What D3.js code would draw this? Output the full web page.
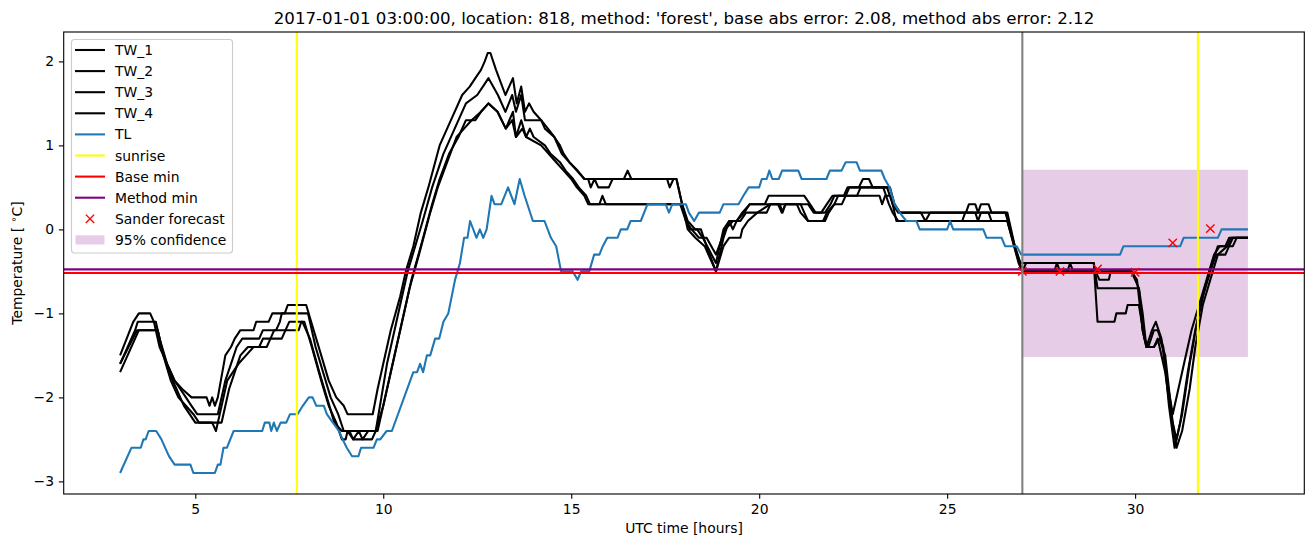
<!DOCTYPE html>
<html><head><meta charset="utf-8">
<script src="https://cdn.jsdelivr.net/npm/d3@7"></script>
<style>body{margin:0;background:#fff} text{font-family:"DejaVu Sans",sans-serif;fill:#000}</style>
</head><body><svg id="c" width="1313" height="547"></svg>
<script>
// ---------- data (hour, temperature) ----------
const TW_1 = [[3.0,-1.5],[3.35,-1.1],[3.5,-1.0],[3.8,-1.0],[3.9,-1.1],[4.05,-1.4],[4.25,-1.6],[4.45,-1.8],[4.65,-1.9],[4.9,-2.0],[5.3,-2.0],[5.38,-2.1],[5.45,-2.0],[5.52,-2.1],[5.6,-2.0],[5.8,-1.5],[5.95,-1.4],[6.05,-1.3],[6.2,-1.2],[6.55,-1.2],[6.62,-1.1],[6.95,-1.1],[7.05,-1.0],[7.38,-1.0],[7.46,-0.9],[7.95,-0.9],[8.15,-1.2],[8.35,-1.5],[8.55,-1.8],[8.75,-2.0],[8.95,-2.1],[9.05,-2.2],[9.72,-2.2],[9.85,-1.9],[10.0,-1.6],[10.2,-1.2],[10.45,-0.8],[10.6,-0.5],[10.8,-0.2],[11.0,0.2],[11.2,0.5],[11.35,0.75],[11.5,1.0],[11.8,1.3],[12.1,1.6],[12.3,1.7],[12.45,1.8],[12.6,1.9],[12.7,2.0],[12.78,2.1],[12.85,2.1],[13.0,1.9],[13.25,1.6],[13.45,1.8],[13.55,1.5],[13.67,1.7],[13.77,1.4],[13.88,1.5],[14.0,1.4],[14.2,1.3],[14.38,1.2],[14.55,1.1],[14.7,1.0],[14.8,0.9],[14.95,0.8],[15.17,0.7],[15.35,0.6],[16.4,0.6],[16.5,0.7],[16.6,0.6],[17.55,0.6],[17.62,0.5],[17.72,0.6],[17.8,0.6],[17.95,0.3],[18.1,0.1],[18.3,0.0],[18.45,0.0],[18.6,-0.2],[18.85,-0.5],[19.05,-0.1],[19.2,0.1],[19.3,0.0],[19.4,0.1],[19.55,0.2],[19.75,0.3],[20.15,0.3],[20.25,0.4],[21.2,0.4],[21.35,0.3],[21.5,0.2],[21.75,0.2],[21.9,0.3],[22.0,0.4],[22.25,0.4],[22.35,0.5],[22.65,0.5],[22.76,0.6],[22.92,0.6],[23.02,0.5],[23.48,0.5],[23.6,0.3],[23.75,0.2],[24.3,0.2],[24.42,0.1],[24.55,0.2],[25.5,0.2],[25.58,0.3],[25.75,0.3],[25.82,0.2],[25.9,0.3],[26.1,0.3],[26.18,0.2],[26.6,0.2],[26.8,-0.2],[26.95,-0.4],[28.9,-0.4],[29.0,-0.7],[30.1,-0.7],[30.2,-1.2],[30.3,-1.4],[30.45,-1.2],[30.55,-1.1],[30.7,-1.3],[30.85,-1.8],[31.0,-2.2],[31.1,-2.0],[31.3,-1.6],[31.5,-1.2],[31.7,-0.9],[31.9,-0.6],[32.1,-0.3],[32.25,-0.2],[32.4,-0.2],[32.5,-0.1],[33.0,-0.1]];
const TW_2 = [[3.0,-1.6],[3.4,-1.2],[3.47,-1.1],[3.95,-1.1],[4.05,-1.3],[4.25,-1.6],[4.45,-1.8],[4.6,-1.9],[4.75,-2.0],[4.9,-2.1],[5.05,-2.2],[5.6,-2.2],[5.8,-1.8],[5.95,-1.6],[6.1,-1.4],[6.25,-1.3],[6.7,-1.3],[6.8,-1.2],[7.15,-1.2],[7.25,-1.1],[7.3,-1.0],[8.0,-1.0],[8.2,-1.4],[8.4,-1.7],[8.6,-2.0],[8.8,-2.2],[8.95,-2.4],[9.8,-2.4],[9.95,-2.0],[10.1,-1.6],[10.3,-1.2],[10.5,-0.8],[10.65,-0.5],[10.85,-0.2],[11.05,0.1],[11.3,0.5],[11.6,0.9],[11.9,1.2],[12.2,1.5],[12.5,1.6],[12.65,1.7],[12.8,1.8],[13.05,1.6],[13.25,1.4],[13.43,1.6],[13.53,1.4],[13.67,1.6],[13.77,1.3],[14.2,1.3],[14.3,1.2],[14.55,1.1],[14.75,0.9],[14.95,0.8],[15.15,0.7],[15.35,0.6],[15.45,0.6],[15.52,0.5],[15.62,0.6],[15.72,0.5],[16.0,0.5],[16.1,0.6],[17.8,0.6],[18.0,0.2],[18.15,0.0],[18.35,0.0],[18.5,-0.1],[18.85,-0.4],[19.05,0.0],[19.2,0.1],[19.4,0.1],[19.6,0.2],[19.75,0.3],[20.5,0.3],[20.6,0.2],[20.7,0.3],[21.3,0.3],[21.45,0.2],[21.65,0.2],[21.8,0.3],[21.95,0.4],[22.3,0.4],[22.4,0.5],[23.4,0.5],[23.55,0.3],[23.7,0.2],[26.55,0.2],[26.8,-0.2],[27.0,-0.5],[27.1,-0.4],[28.9,-0.4],[29.0,-1.1],[29.45,-1.1],[29.5,-1.0],[29.75,-1.0],[29.8,-0.9],[30.1,-0.9],[30.25,-1.3],[30.35,-1.4],[30.5,-1.2],[30.6,-1.2],[30.75,-1.4],[30.9,-2.1],[31.05,-2.6],[31.2,-2.3],[31.4,-1.7],[31.6,-1.2],[31.8,-0.8],[32.0,-0.5],[32.15,-0.3],[32.4,-0.3],[32.5,-0.2],[32.6,-0.1],[33.0,-0.1]];
const TW_3 = [[3.0,-1.6],[3.45,-1.2],[4.0,-1.2],[4.15,-1.5],[4.35,-1.8],[4.55,-2.0],[4.75,-2.1],[4.95,-2.2],[5.1,-2.3],[5.7,-2.3],[5.9,-1.9],[6.05,-1.7],[6.2,-1.5],[6.4,-1.4],[6.7,-1.4],[6.8,-1.3],[7.0,-1.3],[7.1,-1.2],[7.4,-1.2],[7.5,-1.1],[7.85,-1.1],[8.05,-1.3],[8.3,-1.7],[8.5,-2.0],[8.7,-2.3],[8.9,-2.4],[9.1,-2.4],[9.2,-2.5],[9.35,-2.4],[9.45,-2.5],[9.6,-2.4],[9.85,-2.4],[10.05,-2.0],[10.3,-1.5],[10.55,-1.0],[10.75,-0.6],[11.0,-0.2],[11.3,0.3],[11.5,0.6],[11.75,0.9],[12.0,1.1],[12.2,1.3],[12.45,1.3],[12.6,1.4],[12.8,1.5],[13.04,1.4],[13.26,1.2],[13.45,1.4],[13.53,1.1],[13.67,1.3],[13.8,1.1],[13.9,1.2],[14.0,1.1],[14.3,1.0],[14.45,0.9],[14.7,0.8],[14.85,0.7],[15.05,0.6],[15.2,0.5],[15.4,0.4],[15.5,0.3],[15.75,0.3],[15.83,0.4],[15.92,0.3],[17.9,0.3],[18.05,0.1],[18.2,0.0],[18.4,-0.1],[18.6,-0.1],[18.85,-0.3],[19.1,0.0],[19.3,0.1],[19.5,0.1],[19.65,0.2],[20.2,0.2],[20.3,0.3],[20.55,0.3],[20.62,0.2],[20.7,0.3],[21.0,0.3],[21.1,0.2],[21.3,0.1],[21.7,0.1],[21.8,0.2],[22.0,0.3],[22.1,0.4],[22.6,0.4],[22.7,0.5],[23.3,0.5],[23.45,0.3],[23.55,0.2],[23.7,0.1],[25.4,0.1],[25.48,0.2],[25.75,0.2],[25.82,0.1],[25.9,0.2],[26.1,0.2],[26.18,0.1],[26.6,0.1],[26.85,-0.3],[27.0,-0.5],[27.85,-0.5],[27.92,-0.4],[28.0,-0.5],[28.2,-0.5],[28.27,-0.4],[28.35,-0.5],[28.95,-0.5],[29.05,-0.6],[29.3,-0.6],[29.35,-0.5],[29.9,-0.5],[30.0,-0.6],[30.1,-0.7],[30.2,-1.0],[30.3,-1.4],[30.5,-1.4],[30.6,-1.3],[30.8,-1.7],[30.95,-2.2],[31.1,-2.5],[31.25,-2.2],[31.45,-1.6],[31.65,-1.1],[31.85,-0.7],[32.05,-0.4],[32.2,-0.2],[32.6,-0.2],[32.7,-0.1],[33.0,-0.1]];
const TW_4 = [[3.0,-1.7],[3.5,-1.2],[4.0,-1.2],[4.1,-1.4],[4.3,-1.7],[4.5,-1.9],[4.7,-2.1],[4.85,-2.2],[5.0,-2.3],[5.45,-2.3],[5.55,-2.4],[5.65,-2.2],[5.85,-1.8],[6.0,-1.7],[6.15,-1.6],[6.35,-1.5],[6.55,-1.4],[6.9,-1.4],[7.0,-1.3],[7.3,-1.3],[7.4,-1.2],[7.75,-1.2],[7.82,-1.1],[7.9,-1.1],[8.1,-1.4],[8.35,-1.8],[8.55,-2.1],[8.75,-2.3],[8.9,-2.5],[9.0,-2.5],[9.05,-2.4],[9.2,-2.5],[9.7,-2.5],[9.8,-2.4],[10.0,-2.1],[10.25,-1.6],[10.5,-1.1],[10.7,-0.7],[10.95,-0.3],[11.25,0.2],[11.45,0.5],[11.7,0.8],[11.95,1.1],[12.15,1.2],[12.35,1.3],[12.6,1.4],[12.8,1.5],[13.04,1.4],[13.26,1.2],[13.43,1.3],[13.53,1.1],[13.7,1.2],[13.8,1.1],[14.2,1.0],[14.4,0.9],[14.6,0.8],[14.8,0.7],[15.0,0.6],[15.15,0.5],[15.35,0.4],[15.45,0.3],[17.95,0.3],[18.1,0.0],[18.3,-0.1],[18.55,-0.2],[18.65,-0.3],[18.85,-0.5],[19.05,-0.2],[19.2,-0.1],[19.5,-0.1],[19.55,0.0],[19.7,0.1],[19.95,0.2],[20.3,0.3],[21.1,0.3],[21.2,0.2],[21.3,0.1],[21.75,0.1],[21.85,0.2],[22.0,0.3],[22.2,0.3],[22.3,0.4],[23.2,0.4],[23.27,0.3],[23.35,0.4],[23.5,0.4],[23.65,0.1],[26.6,0.1],[26.9,-0.4],[27.0,-0.5],[29.9,-0.5],[30.05,-0.6],[30.2,-1.2],[30.3,-1.4],[30.5,-1.4],[30.65,-1.3],[30.8,-1.5],[30.9,-1.9],[31.0,-2.3],[31.1,-2.6],[31.25,-2.4],[31.45,-1.9],[31.6,-1.4],[31.8,-0.9],[32.0,-0.6],[32.2,-0.3],[32.45,-0.2],[32.55,-0.1],[33.0,-0.1]];
const TL = [[3.0,-2.9],[3.3,-2.6],[3.55,-2.6],[3.62,-2.5],[3.68,-2.5],[3.76,-2.4],[3.96,-2.4],[4.1,-2.5],[4.2,-2.6],[4.3,-2.7],[4.45,-2.8],[4.87,-2.8],[4.95,-2.9],[5.52,-2.9],[5.6,-2.8],[5.67,-2.8],[5.75,-2.6],[5.84,-2.6],[6.02,-2.4],[6.78,-2.4],[6.85,-2.3],[6.97,-2.3],[7.02,-2.4],[7.09,-2.3],[7.17,-2.4],[7.27,-2.3],[7.42,-2.3],[7.52,-2.2],[7.72,-2.2],[7.86,-2.1],[8.02,-2.0],[8.12,-2.0],[8.22,-2.1],[8.42,-2.1],[8.5,-2.2],[8.66,-2.3],[8.82,-2.4],[8.92,-2.5],[9.03,-2.6],[9.17,-2.7],[9.34,-2.7],[9.41,-2.6],[9.74,-2.6],[9.83,-2.5],[9.92,-2.5],[10.09,-2.4],[10.23,-2.4],[10.8,-1.7],[10.9,-1.7],[10.98,-1.6],[11.06,-1.7],[11.16,-1.5],[11.25,-1.5],[11.38,-1.3],[11.49,-1.3],[11.6,-1.1],[11.73,-1.0],[11.82,-0.8],[11.91,-0.6],[12.04,-0.4],[12.15,-0.1],[12.24,-0.1],[12.31,0.1],[12.48,-0.1],[12.57,0.0],[12.66,-0.1],[12.75,0.0],[12.88,0.4],[12.96,0.3],[13.14,0.3],[13.32,0.5],[13.49,0.3],[13.63,0.6],[13.76,0.4],[13.98,0.1],[14.29,0.1],[14.46,-0.1],[14.6,-0.2],[14.73,-0.5],[15.04,-0.5],[15.17,-0.6],[15.26,-0.5],[15.48,-0.5],[15.61,-0.3],[15.75,-0.3],[15.84,-0.2],[15.96,-0.1],[16.23,-0.1],[16.32,0.0],[16.49,0.0],[16.58,0.1],[16.85,0.1],[17.03,0.3],[17.51,0.3],[17.6,0.2],[17.69,0.3],[18.05,0.3],[18.13,0.2],[18.27,0.1],[18.4,0.2],[18.95,0.2],[19.05,0.3],[19.45,0.3],[19.58,0.4],[19.72,0.5],[20.0,0.5],[20.07,0.6],[20.2,0.6],[20.27,0.7],[20.35,0.6],[20.52,0.6],[20.61,0.7],[21.04,0.7],[21.13,0.6],[21.79,0.6],[21.88,0.7],[22.19,0.7],[22.3,0.8],[22.59,0.8],[22.68,0.7],[23.25,0.7],[23.34,0.6],[23.47,0.5],[23.6,0.3],[23.74,0.2],[23.91,0.1],[24.18,0.1],[24.27,0.0],[25.0,0.0],[25.08,0.1],[25.16,0.0],[25.96,0.0],[26.05,-0.1],[26.45,-0.1],[26.54,-0.2],[26.85,-0.2],[26.97,-0.3],[29.6,-0.3],[29.69,-0.2],[31.2,-0.2],[31.29,-0.1],[32.2,-0.1],[32.3,0.0],[33.0,0.0]];
const sunriseHours = [7.7, 31.67];
const nowHour = 27;
const baseMin = -0.52;
const methodMin = -0.476;
const forecastHours = [27, 28, 29, 30, 31, 32];
const forecastValues = [-0.5, -0.5, -0.47, -0.51, -0.16, 0.01];
const bandHours = [27, 33];
const bandLower = [-1.52, -1.52];
const bandUpper = [0.71, 0.71];
const xTicks = [5, 10, 15, 20, 25, 30];
const yTicks = [-3, -2, -1, 0, 1, 2];
const legendLabels = ["TW_1","TW_2","TW_3","TW_4","TL","sunrise","Base min","Method min","Sander forecast","95% confidence"];
const titleText = "2017-01-01 03:00:00, location: 818, method: 'forest', base abs error: 2.08, method abs error: 2.12";

// ---------- drawing ----------
const W = 1313, H = 547;
const L = 63.7, R = 1304.3, T = 32, B = 494;
const svg = d3.select("#c");
const x = d3.scaleLinear().domain([1.5, 34.5]).range([L, R]);
const y = d3.scaleLinear().domain([-3.15, 2.35]).range([B, T]);
const FS = 13.9;

svg.append("defs").append("clipPath").attr("id","clip")
  .append("rect").attr("x",L).attr("y",T).attr("width",R-L).attr("height",B-T);
const g = svg.append("g").attr("clip-path","url(#clip)");

// confidence band
const area = d3.area().x(d=>x(d[0])).y0(d=>y(d[1])).y1(d=>y(d[2]));
g.append("path").datum(bandHours.map((h,i)=>[h,bandLower[i],bandUpper[i]]))
  .attr("d", area).attr("fill","#800080").attr("fill-opacity",0.2);

const line = d3.line().x(d=>x(d[0])).y(d=>y(d[1]));
[TW_1, TW_2, TW_3, TW_4].forEach(s=>{
  g.append("path").datum(s).attr("d",line).attr("fill","none")
   .attr("stroke","#000").attr("stroke-width",2.08).attr("stroke-linejoin","round");
});
g.append("path").datum(TL).attr("d",line).attr("fill","none")
  .attr("stroke","#1f77b4").attr("stroke-width",2.08).attr("stroke-linejoin","round");

// sunrise
sunriseHours.forEach(h=>{
  g.append("line").attr("x1",x(h)).attr("x2",x(h)).attr("y1",T).attr("y2",B)
   .attr("stroke","#ffff00").attr("stroke-width",2.08);
});
// base & method min
g.append("line").attr("x1",L).attr("x2",R).attr("y1",y(baseMin)).attr("y2",y(baseMin))
  .attr("stroke","#ff0000").attr("stroke-width",2.08);
g.append("line").attr("x1",L).attr("x2",R).attr("y1",y(methodMin)).attr("y2",y(methodMin))
  .attr("stroke","#800080").attr("stroke-width",2.08);
// forecast markers
const ms = 4.17;
forecastHours.forEach((h,i)=>{
  const cx = x(h), cy = y(forecastValues[i]);
  g.append("path").attr("d",`M${cx-ms},${cy-ms}L${cx+ms},${cy+ms}M${cx-ms},${cy+ms}L${cx+ms},${cy-ms}`)
   .attr("stroke","#ff0000").attr("stroke-width",1.39).attr("fill","none");
});
// current time
g.append("line").attr("x1",x(nowHour)).attr("x2",x(nowHour)).attr("y1",T).attr("y2",B)
  .attr("stroke","#808080").attr("stroke-width",2.08);

// axes
const xa = svg.append("g").attr("transform",`translate(0,${B})`)
  .call(d3.axisBottom(x).tickValues(xTicks).tickSize(4.86).tickPadding(4.86).tickFormat(d3.format("d")));
const ya = svg.append("g").attr("transform",`translate(${L},0)`)
  .call(d3.axisLeft(y).tickValues(yTicks).tickSize(4.86).tickPadding(4.86).tickFormat(d=>d<0?"\u2212"+Math.abs(d):""+d));
[xa, ya].forEach(a=>{
  a.select(".domain").remove();
  a.selectAll("line").attr("stroke","#000").attr("stroke-width",1.11);
  a.selectAll("text").attr("font-size",FS).attr("font-family","DejaVu Sans").attr("fill","#000");
});
// frame
svg.append("rect").attr("x",L).attr("y",T).attr("width",R-L).attr("height",B-T)
  .attr("fill","none").attr("stroke","#000").attr("stroke-width",1.11);

// labels
svg.append("text").attr("x",(L+R)/2).attr("y",533).attr("text-anchor","middle")
  .attr("font-size",FS).text("UTC time [hours]");
const yl = svg.append("text").attr("transform",`translate(22,${(T+B)/2}) rotate(-90)`)
  .attr("text-anchor","middle").attr("font-size",FS);
yl.append("tspan").text("Temperature [ ");
yl.append("tspan").attr("font-size",FS*0.7).attr("dy",-5).text("\u2218");
yl.append("tspan").attr("dy",5).text("C]");
svg.append("text").attr("x",(L+R)/2).attr("y",23.5).attr("text-anchor","middle")
  .attr("font-size",16.67).text(titleText);

// legend
const lg = svg.append("g");
lg.append("rect").attr("x",71.5).attr("y",39.5).attr("width",161).attr("height",213.5).attr("rx",3)
  .attr("fill","#fff").attr("fill-opacity",0.8).attr("stroke","#cccccc").attr("stroke-width",1.11);
const legendStyles = [
  {t:"line",c:"#000"},{t:"line",c:"#000"},{t:"line",c:"#000"},{t:"line",c:"#000"},
  {t:"line",c:"#1f77b4"},{t:"line",c:"#ffff00"},{t:"line",c:"#ff0000"},{t:"line",c:"#800080"},
  {t:"x",c:"#ff0000"},{t:"patch",c:"#800080"}];
legendLabels.forEach((lab,i)=>{
  const cy = 50 + i*21.1;
  const st = legendStyles[i];
  if(st.t==="line"){
    lg.append("line").attr("x1",75).attr("x2",105).attr("y1",cy).attr("y2",cy)
      .attr("stroke",st.c).attr("stroke-width",2.08);
  } else if(st.t==="x"){
    const cx=90;
    lg.append("path").attr("d",`M${cx-ms},${cy-ms}L${cx+ms},${cy+ms}M${cx-ms},${cy+ms}L${cx+ms},${cy-ms}`)
      .attr("stroke",st.c).attr("stroke-width",1.39);
  } else {
    lg.append("rect").attr("x",75.5).attr("y",cy-4.6).attr("width",29).attr("height",9.2)
      .attr("fill",st.c).attr("fill-opacity",0.2);
  }
  lg.append("text").attr("x",115).attr("y",cy+5).attr("font-size",FS).text(lab);
});
</script></body></html>
